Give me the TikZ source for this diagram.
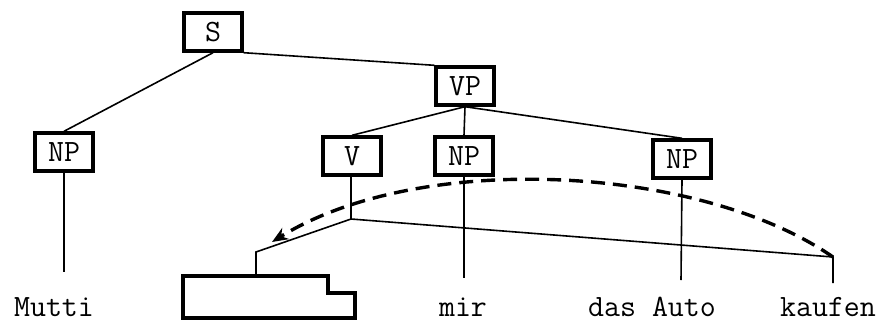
\documentclass[tikz,border=0pt]{standalone}
\usepackage{fontspec}
\usetikzlibrary{arrows.meta}

\begin{document}
\begin{tikzpicture}[x=1pt,y=-1pt]
		\tikzstyle{every node}+=[inner sep=0pt]
		\tikzstyle{cat}=[draw,line width=3.4pt,minimum width=58pt,minimum height=38pt,font=\fontsize{31}{31}\ttfamily]
		\tikzstyle{word}=[anchor=base,font=\fontsize{31}{31}\ttfamily]
		\tikzstyle{branch}=[line width=1.6pt]
		\useasboundingbox (0,0) rectangle (885,327);
		\node [cat] (S) at (213,32) {S};
		\node [cat] (VP) at (465,86) {VP};
		\node [cat] (NPa) at (64,152) {NP};
		\node [cat] (V) at (352,156) {V};
		\node [cat] (NPb) at (464,156) {NP};
		\node [cat] (NPc) at (682,159) {NP};
		\node [word] (Mutti) at (54,316) {Mutti};
		\node [word] (mir) at (463,316) {mir};
		\node [word] (Auto) at (652,316) {das Auto};
		\node [word] (kaufen) at (828,316) {kaufen};
		\coordinate (vfork) at (351,219);
		\coordinate (slot) at (256,252);
		\coordinate (kfork) at (833,257);
		\draw [branch] (S.south) -- (NPa.north);
		\draw [branch] (S.south east) -- (VP.north west);
		\draw [branch] (VP.south) -- (V.north);
		\draw [branch] (VP.south) -- (NPb.north);
		\draw [branch] (VP.south) -- (NPc.north);
		\draw [branch] (NPa.south) -- (64,272);
		\draw [branch] (NPb.south) -- (464,278);
		\draw [branch] (NPc.south) -- (681,280);
		\draw [branch] (V.south -| vfork) -- (vfork);
		\draw [branch] (vfork) -- (slot) -- (256,276);
		\draw [branch] (vfork) -- (kfork) -- (833,283);
		\draw [line width=3.2pt,line join=miter] (183,276) -- (328,276) -- (328,293) -- (355,293) -- (355,318) -- (183,318) -- cycle;
		\draw [line width=3.4pt,dash pattern=on 14pt off 8pt,-{Stealth[length=16pt,width=13pt]}] (kfork) .. controls (700,165) and (420,150) .. (272,242);
		\end{tikzpicture}
\end{document}
